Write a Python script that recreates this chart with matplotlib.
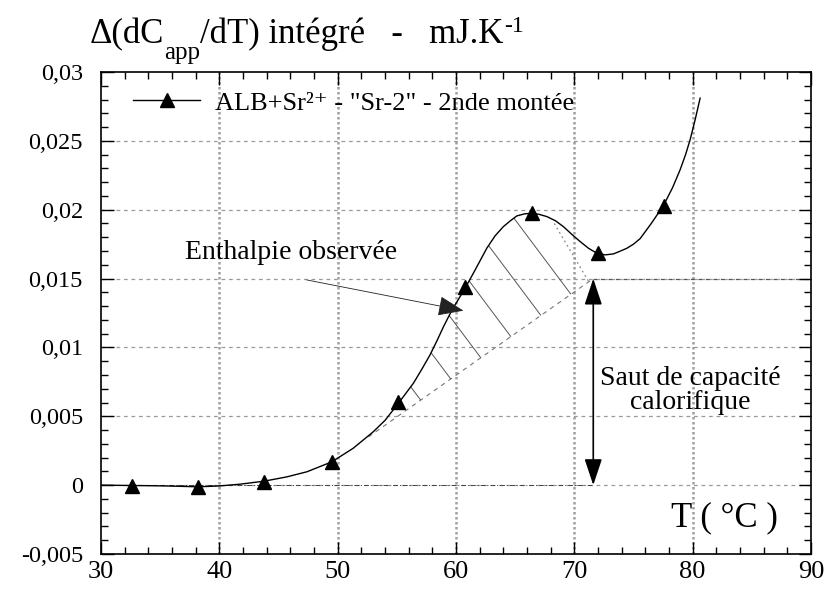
import numpy as np
import matplotlib
matplotlib.use('Agg')
import matplotlib.pyplot as plt
from matplotlib.patches import Polygon
from matplotlib.collections import LineCollection
from matplotlib.ticker import MultipleLocator, FuncFormatter

plt.rcParams['font.family'] = ['Liberation Serif', 'DejaVu Serif']
plt.rcParams['mathtext.fontset'] = 'custom'
plt.rcParams['mathtext.rm'] = 'Liberation Serif'
plt.rcParams['mathtext.it'] = 'Liberation Serif:italic'

# measured points (triangles)
T_pts = [32.6, 38.2, 43.8, 49.5, 55.1, 60.8, 66.4, 72.0, 77.6]
y_pts = [-0.00007, -0.00017, 0.00022, 0.00165, 0.00605, 0.01437, 0.01975, 0.01684, 0.0203]

# smoothed curve
T_curve = [30, 32, 34, 35.5, 38.2, 40, 41.75, 43.8, 45.7, 47.4, 49.5, 51.3, 53.0, 54.0,
           55.13, 56.4, 57.1, 57.8, 58.4, 58.94, 59.65, 60.77, 61.6, 62.6, 63.3, 64.0, 64.6,
           65.14, 65.8, 66.4, 67.0, 67.68, 68.4, 69.08, 69.8, 70.5, 71.2, 71.9, 72.6, 73.3,
           73.9, 74.44, 75.0, 75.56, 76.5, 77.53, 78.3, 78.94, 79.4, 79.79, 80.2, 80.63]
y_curve = [0, -0.00002, -0.00004, -0.00006, -0.00012, -0.00006, 0.00007, 0.00029, 0.0006,
           0.00097, 0.00169, 0.00267, 0.00387, 0.0047, 0.00594, 0.0074, 0.0084, 0.00945,
           0.0105, 0.0115, 0.0127, 0.0143, 0.0156, 0.0172, 0.0181, 0.01877, 0.0192,
           0.01955, 0.0197, 0.01974, 0.01967, 0.0195, 0.0192, 0.01877, 0.0182, 0.01768,
           0.0172, 0.01684, 0.01672, 0.01679, 0.0170, 0.0172, 0.0175, 0.0179, 0.0190,
           0.0203, 0.0216, 0.0229, 0.0240, 0.0251, 0.0265, 0.0281]

# baseline under the transition and the heat capacity jump
base_T = [52.6, 71.6]
base_y = [0.0035, 0.0150]
jump_T = 71.6
jump_y = [0.0150, 0.0]

label = 'ALB+Sr²⁺ - "Sr-2" - 2nde montée'

T_curve = np.array(T_curve)
y_curve = np.array(y_curve)

fig = plt.figure(figsize=(8.25, 5.93), dpi=100)
ax = fig.add_axes([101/825, 1-554/593, 710/825, 482/593])

ax.set_xlim(30, 90)
ax.set_ylim(-0.005, 0.03)

# grid: vertical dotted, horizontal dashed
for xv in [40, 50, 60, 70, 80]:
    ax.axvline(xv, color='#a0a0a0', lw=1.8, ls=(0, (1, 1)), zorder=0)
for yv in [0, 0.005, 0.01, 0.015, 0.02, 0.025]:
    ax.axhline(yv, color='#9a9a9a', lw=0.9, ls=(0, (3, 3)), zorder=0)

# reference lines
ax.plot([30, jump_T], [0, 0], color='#444444', lw=0.7, ls=(0, (5, 2, 1, 2)), zorder=1)
ax.plot([jump_T, 90], [base_y[1], base_y[1]], color='#555555', lw=0.9, ls=(0, (3, 3)), zorder=1)
ax.plot(base_T, base_y, color='#777777', lw=0.8, ls=(0, (4, 4)), zorder=1)
ax.plot([68.3, 71.2], [0.0190, 0.0148], color='#888888', lw=0.9, ls=(0, (1.5, 2.5)), zorder=1)

# hatched area between curve and baseline
m = (T_curve > base_T[0]) & (T_curve < 69.5)
poly = np.vstack([[base_T[0], base_y[0]], np.column_stack([T_curve[m], y_curve[m]]),
                  [base_T[1], base_y[1]]])
region = Polygon(poly, closed=True, fill=False, edgecolor='none')
ax.add_patch(region)
segs = []
for c in np.arange(62.4, 84, 3.88):
    yy = np.array([-0.005, 0.03])
    segs.append(np.column_stack([c - 872 * yy, yy]))
lc = LineCollection(segs, colors='#555555', linewidths=0.7, zorder=1)
lc.set_clip_path(region)
ax.add_collection(lc)

# curve + points
ax.plot(T_curve, y_curve, color='black', lw=1.0, zorder=3)
ax.plot(T_pts, y_pts, ls='none', marker='^', ms=10, color='black', zorder=4)
handle, = ax.plot([], [], color='black', lw=1.0, marker='^', ms=10)
ax.legend([handle], [label], loc='center left', bbox_to_anchor=(0.045, 0.936),
          frameon=False, fontsize=19, handlelength=2.55, handletextpad=0.55,
          borderpad=0, borderaxespad=0)

# annotations
ax.annotate('', xy=(60.63, 0.01267), xytext=(47.39, 0.0149),
            arrowprops=dict(arrowstyle='-|>,head_length=0.9,head_width=0.35',
                            color='#222222', lw=0.6, mutation_scale=18,
                            shrinkA=0, shrinkB=0), zorder=5)
ax.text(46.06, 0.01686, 'Enthalpie observée', fontsize=20, ha='center', va='center')
ax.annotate('', xy=(jump_T, jump_y[0]), xytext=(jump_T, jump_y[1]),
            arrowprops=dict(arrowstyle='<|-|>,head_length=0.9,head_width=0.3',
                            color='black', lw=1.2, mutation_scale=18,
                            shrinkA=0, shrinkB=0), zorder=5)
ax.text(79.8, 0.0069, 'Saut de capacité\ncalorifique', fontsize=20,
        ha='center', va='center', linespacing=0.95)
ax.text(82.7, -0.0024, 'T ( °C )', fontsize=25, ha='center', va='center')

# y axis title, built in pieces for the large subscript
t1 = fig.text(90/825, 1-43/593, 'Δ(dC', fontsize=25, ha='left', va='baseline')
t2 = ax.annotate('app', xy=(1, 0), xycoords=t1, xytext=(0, -9), textcoords='offset points',
                 fontsize=18, ha='left', va='bottom', annotation_clip=False)
t3 = ax.annotate('/dT) intégré   -   mJ.K', xy=(1, 0), xycoords=(t2, t1),
                 fontsize=25, ha='left', va='bottom', annotation_clip=False)
t4 = ax.annotate('-1', xy=(1, 0), xycoords=t3, xytext=(0, 10), textcoords='offset points',
                 fontsize=17, ha='left', va='bottom', annotation_clip=False)

# axes, ticks
ax.xaxis.set_major_locator(MultipleLocator(10))
ax.xaxis.set_minor_locator(MultipleLocator(2))
ax.yaxis.set_major_locator(MultipleLocator(0.005))
ax.yaxis.set_minor_locator(MultipleLocator(0.001))
ax.yaxis.set_major_formatter(FuncFormatter(lambda v, p: '{:g}'.format(round(v, 4)).replace('.', ',')))
ax.tick_params(which='both', direction='in', top=True, right=True, color='black')
ax.tick_params(which='major', length=9, width=1)
ax.tick_params(which='minor', length=5, width=1)
ax.tick_params(axis='x', labelsize=19, pad=5)
ax.tick_params(axis='y', labelsize=17.5, pad=13)
for s in ax.spines.values():
    s.set_linewidth(1.2)

plt.savefig('out.png', dpi=100)
